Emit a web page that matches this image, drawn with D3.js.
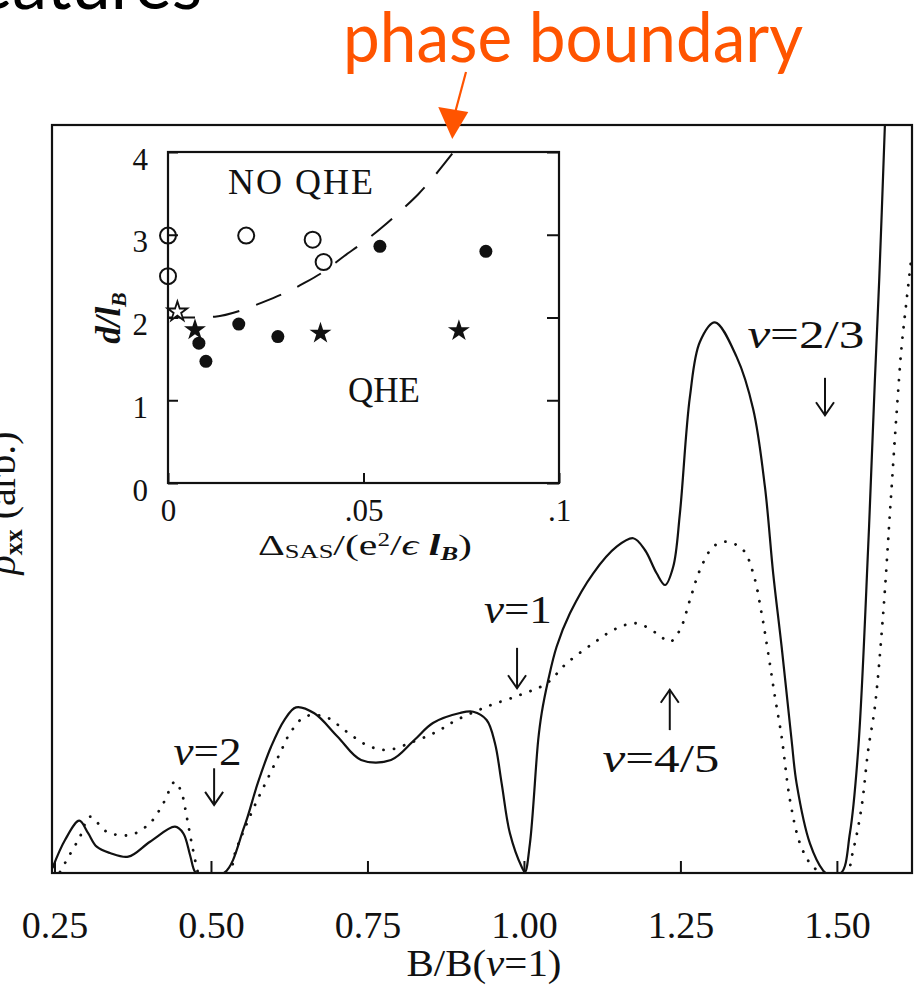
<!DOCTYPE html>
<html>
<head>
<meta charset="utf-8">
<script src="https://cdn.jsdelivr.net/npm/d3@7"></script>
<style>
	body { margin: 0; background: #fff; }
	svg { display: block; }
</style>
</head>
<body>
<div id="chart"></div>
<script>
// ---- main panel: rho_xx (arb.) against B/B(nu=1) ----
var solidB = [0.2468,0.2668,0.2896,0.3035,0.3174,0.3387,0.3679,0.4026,0.4425,0.4558,0.4665,0.4744,0.4792,0.5208,
	0.5532,0.5746,0.5960,0.6172,0.6359,0.6651,0.7024,0.7398,0.7877,0.8249,0.8546,0.8978,0.9190,0.9404,0.9537,0.9644,
	0.9776,0.9963,1.0016,1.0096,1.0228,1.0283,1.0388,1.0522,1.0735,1.1107,1.1481,1.1746,1.1933,1.2120,1.2255,1.2385,
	1.2492,1.2652,1.2812,1.3051,1.3398,1.3663,1.3850,1.3982,1.4117,1.4276,1.4356,1.4569,1.4781,1.4824,1.5064,1.5208,
	1.5340,1.5500,1.5607,1.5676,1.5767];
var solidRho = [0.0067,0.0441,0.0699,0.0535,0.0352,0.0267,0.0218,0.0418,0.0619,0.0531,0.0241,0.0017,0,0,
	0.0619,0.1199,0.1688,0.2045,0.2215,0.2135,0.1822,0.1511,0.1511,0.1778,0.2005,0.2139,0.2156,0.2045,0.1734,0.1199,
	0.0531,0.0084,0.0013,0.0397,0.1778,0.2135,0.2580,0.3025,0.3472,0.4007,0.4362,0.4475,0.4318,0.4007,0.3850,0.4095,
	0.4809,0.6368,0.7103,0.7362,0.6900,0.6200,0.5164,0.4007,0.3025,0.1778,0.1199,0.0397,0.0031,0,0,0.0531,
	0.1644,0.4362,0.6591,0.7928,1.0];

var dottedB = [0.2588,0.2695,0.2907,0.3067,0.3334,0.3706,0.4026,0.4238,0.4425,0.4532,0.4612,0.4692,0.4772,0.4808,
	0.5272,0.5399,0.5543,0.5703,0.5895,0.6102,0.6262,0.6502,0.6821,0.7168,0.7487,0.7807,0.8232,0.8605,0.8925,0.9404,
	0.9936,1.0363,1.0682,1.1107,1.1481,1.1800,1.2120,1.2332,1.2492,1.2652,1.2812,1.3024,1.3238,1.3503,1.3663,1.3797,
	1.3903,1.4010,1.4117,1.4250,1.4409,1.4569,1.4676,1.4729,1.5144,1.5261,1.5395,1.5500,1.5607,1.5740,1.5847,1.5954,
	1.6034,1.6114,1.6182];
var dottedRho = [0.0013,0.0174,0.0485,0.0753,0.0552,0.0508,0.0668,0.0932,0.1221,0.1066,0.0753,0.0397,0.0084,0,
	0,0.0307,0.0602,0.0909,0.1243,0.1600,0.1868,0.2090,0.2090,0.1889,0.1711,0.1644,0.1755,0.1889,0.2045,0.2223,
	0.2380,0.2536,0.2803,0.3071,0.3271,0.3338,0.3205,0.3092,0.3249,0.3650,0.4051,0.4362,0.4429,0.4318,0.4007,0.3472,
	0.2937,0.2357,0.1822,0.0976,0.0397,0.0130,0.0040,0,0,0.0307,0.0886,0.1644,0.2223,0.3472,0.4809,0.6146,
	0.7036,0.7660,0.8168];

var mainTicks = [0.25, 0.50, 0.75, 1.00, 1.25, 1.50];
var mainTickLabels = ["0.25", "0.50", "0.75", "1.00", "1.25", "1.50"];

// filling-factor markers (label, arrow position, arrow from/to, label anchor)
var nuNames = ["2", "1", "4/5", "2/3"];
var nuArrowB = [0.505, 0.989, 1.233, 1.481];
var nuArrowFrom = [0.140, 0.301, 0.191, 0.662];
var nuArrowTo = [0.091, 0.247, 0.245, 0.612];
var nuLabelB = [0.4945, 0.9904, 1.2189, 1.4505];
var nuLabelRho = [0.144, 0.334, 0.135, 0.702];

// ---- inset: d/l_B against Delta_SAS/(e^2/eps l_B) ----
var openCircleX = [0, 0, 0.020, 0.037, 0.0398];
var openCircleY = [2.99, 2.50, 2.99, 2.94, 2.67];
var filledCircleX = [0.0542, 0.0813, 0.0181, 0.0281, 0.0079, 0.0097];
var filledCircleY = [2.86, 2.80, 1.92, 1.77, 1.69, 1.47];
var filledStarX = [0.0069, 0.039, 0.0744];
var filledStarY = [1.85, 1.81, 1.84];
var openStarX = [0.0024];
var openStarY = [2.07];
var boundaryX = [0, 0.007, 0.012, 0.019, 0.024, 0.030, 0.035, 0.040, 0.045, 0.050, 0.055, 0.060, 0.064, 0.0727];
var boundaryY = [2.0, 2.0, 2.01, 2.09, 2.18, 2.30, 2.42, 2.56, 2.74, 2.91, 3.10, 3.31, 3.49, 3.98];
var insetXTicks = [0, 0.05, 0.1];
var insetXTickLabels = ["0", ".05", ".1"];
var insetYTicks = [0, 1, 2, 3, 4];

var W = 921, H = 990;
var serif = "'Liberation Serif', 'Times New Roman', serif";
var orange = "#ff5400";

var svg = d3.select("#chart").append("svg")
	.attr("width", W)
	.attr("height", H);

// cut-off slide title and the annotation
svg.append("text")
	.attr("x", 202).attr("y", 9)
	.attr("text-anchor", "end")
	.style("font-family", "'Comic Sans MS', Lato, sans-serif")
	.style("font-size", "70px")
	.attr("fill", "#000")
	.text("Features");

svg.append("text")
	.attr("x", 343).attr("y", 62)
	.attr("textLength", 460)
	.attr("lengthAdjust", "spacingAndGlyphs")
	.style("font-family", "'Comic Sans MS', Lato, sans-serif")
	.style("font-size", "70px")
	.attr("fill", orange)
	.text("phase boundary");

// ---- main panel ----
var x = d3.scaleLinear().domain([0.246, 1.620]).range([52, 912]);
var y = d3.scaleLinear().domain([0, 1]).range([873, 125]);

svg.append("clipPath").attr("id", "mainClip")
	.append("rect")
	.attr("x", x.range()[0]).attr("y", y.range()[1])
	.attr("width", x.range()[1] - x.range()[0])
	.attr("height", y.range()[0] - y.range()[1]);

var line = d3.line()
	.x(function(d) { return x(d[0]); })
	.y(function(d) { return y(d[1]); })
	.curve(d3.curveCatmullRom.alpha(0.5));

var curves = svg.append("g").attr("clip-path", "url(#mainClip)");

curves.append("path")
	.datum(d3.zip(dottedB, dottedRho))
	.attr("d", line)
	.attr("fill", "none")
	.attr("stroke", "#111")
	.attr("stroke-width", 2.8)
	.attr("stroke-linecap", "round")
	.attr("stroke-dasharray", "0.1 10.5");

curves.append("path")
	.datum(d3.zip(solidB, solidRho))
	.attr("d", line)
	.attr("fill", "none")
	.attr("stroke", "#111")
	.attr("stroke-width", 2.2);

var xAxis = d3.axisBottom(x)
	.tickValues(mainTicks)
	.tickSize(-12)
	.tickPadding(38)
	.tickFormat(function(d, i) { return mainTickLabels[i]; });

var gx = svg.append("g")
	.attr("transform", "translate(0," + y(0) + ")")
	.call(xAxis);
gx.select(".domain").remove();
gx.selectAll(".tick line").attr("stroke", "#111").attr("stroke-width", 2);
gx.selectAll(".tick text")
	.attr("fill", "#111")
	.style("font-family", serif)
	.style("font-size", "38px");

svg.append("rect")
	.attr("x", x.range()[0]).attr("y", y.range()[1])
	.attr("width", x.range()[1] - x.range()[0])
	.attr("height", y.range()[0] - y.range()[1])
	.attr("fill", "none")
	.attr("stroke", "#111")
	.attr("stroke-width", 2.2);

// axis titles
var xt = svg.append("text")
	.attr("x", 484).attr("y", 976)
	.attr("text-anchor", "middle")
	.attr("textLength", 155)
	.attr("lengthAdjust", "spacingAndGlyphs")
	.attr("fill", "#111")
	.style("font-family", serif)
	.style("font-size", "38px");
xt.append("tspan").text("B/B(");
xt.append("tspan").style("font-style", "italic").text("ν");
xt.append("tspan").text("=1)");

var yt = svg.append("text")
	.attr("transform", "translate(15,503) rotate(-90)")
	.attr("text-anchor", "middle")
	.attr("fill", "#111")
	.style("font-family", serif)
	.style("font-size", "40px");
yt.append("tspan").style("font-style", "italic").text("ρ");
yt.append("tspan").attr("dy", 7).style("font-size", "26px").style("font-weight", "bold").text("xx");
yt.append("tspan").attr("dy", -7).text(" (arb.)");

// nu annotations
nuNames.forEach(function(name, i) {
	var ax = x(nuArrowB[i]);
	var y1 = y(nuArrowFrom[i]);
	var y2 = y(nuArrowTo[i]);
	var dir = y2 > y1 ? -1 : 1; // head opens back towards the tail
	svg.append("line")
		.attr("x1", ax).attr("x2", ax)
		.attr("y1", y1).attr("y2", y2)
		.attr("stroke", "#111").attr("stroke-width", 2);
	svg.append("path")
		.attr("d", "M" + (ax - 9) + "," + (y2 + dir * 13) + "L" + ax + "," + y2 + "L" + (ax + 9) + "," + (y2 + dir * 13))
		.attr("fill", "none")
		.attr("stroke", "#111").attr("stroke-width", 2);

	var t = svg.append("text")
		.attr("x", x(nuLabelB[i])).attr("y", y(nuLabelRho[i]))
		.attr("text-anchor", "middle")
		.attr("textLength", name.length > 1 ? 117 : 68)
		.attr("lengthAdjust", "spacingAndGlyphs")
		.attr("fill", "#111")
		.style("font-family", serif)
		.style("font-size", "40px");
	t.append("tspan").style("font-style", "italic").text("ν");
	t.append("tspan").text("=" + name);
});

// ---- inset ----
var ix = d3.scaleLinear().domain([0, 0.1]).range([168, 559]);
var iy = d3.scaleLinear().domain([0, 4]).range([483, 152]);

var inset = svg.append("g");

var boundary = d3.line()
	.x(function(d) { return ix(d[0]); })
	.y(function(d) { return iy(d[1]); })
	.curve(d3.curveMonotoneX);

inset.append("path")
	.datum(d3.zip(boundaryX, boundaryY))
	.attr("d", boundary)
	.attr("fill", "none")
	.attr("stroke", "#111")
	.attr("stroke-width", 2)
	.attr("stroke-dasharray", "27 18");

var ixAxis = d3.axisBottom(ix)
	.tickValues(insetXTicks)
	.tickSize(-10)
	.tickPadding(16)
	.tickFormat(function(d, i) { return insetXTickLabels[i]; });
var gix = inset.append("g").attr("transform", "translate(0," + iy(0) + ")").call(ixAxis);

var iyAxis = d3.axisLeft(iy)
	.tickValues(insetYTicks)
	.tickSize(-10)
	.tickPadding(20)
	.tickFormat(d3.format("d"));
var giy = inset.append("g").attr("transform", "translate(" + ix(0) + ",0)").call(iyAxis);

var iyAxisR = d3.axisRight(iy)
	.tickValues(insetYTicks)
	.tickSize(-12)
	.tickFormat("");
var giyR = inset.append("g").attr("transform", "translate(" + ix(0.1) + ",0)").call(iyAxisR);

[gix, giy, giyR].forEach(function(g) {
	g.select(".domain").remove();
	g.selectAll(".tick line").attr("stroke", "#111").attr("stroke-width", 2);
	g.selectAll(".tick text")
		.attr("fill", "#111")
		.style("font-family", serif)
		.style("font-size", "31px");
});
giy.selectAll(".tick text").attr("dy", "0.55em");

inset.append("rect")
	.attr("x", ix(0)).attr("y", iy(4))
	.attr("width", ix(0.1) - ix(0))
	.attr("height", iy(0) - iy(4))
	.attr("fill", "none")
	.attr("stroke", "#111")
	.attr("stroke-width", 2.2);

// markers
inset.selectAll(".open-circle")
	.data(d3.zip(openCircleX, openCircleY))
	.enter().append("circle")
	.attr("cx", function(d) { return ix(d[0]); })
	.attr("cy", function(d) { return iy(d[1]); })
	.attr("r", 8)
	.attr("fill", "none")
	.attr("stroke", "#111")
	.attr("stroke-width", 2);

inset.selectAll(".filled-circle")
	.data(d3.zip(filledCircleX, filledCircleY))
	.enter().append("circle")
	.attr("cx", function(d) { return ix(d[0]); })
	.attr("cy", function(d) { return iy(d[1]); })
	.attr("r", 6.5)
	.attr("fill", "#111");

var star = d3.symbol().type(d3.symbolStar);

inset.selectAll(".filled-star")
	.data(d3.zip(filledStarX, filledStarY))
	.enter().append("path")
	.attr("transform", function(d) { return "translate(" + ix(d[0]) + "," + iy(d[1]) + ")"; })
	.attr("d", star.size(150)())
	.attr("fill", "#111");

inset.selectAll(".open-star")
	.data(d3.zip(openStarX, openStarY))
	.enter().append("path")
	.attr("transform", function(d) { return "translate(" + ix(d[0]) + "," + iy(d[1]) + ")"; })
	.attr("d", star.size(120)())
	.attr("fill", "#fff")
	.attr("stroke", "#111")
	.attr("stroke-width", 1.8);

// region labels
inset.append("text")
	.attr("x", 228).attr("y", 194)
	.attr("textLength", 145)
	.attr("lengthAdjust", "spacing")
	.attr("fill", "#111")
	.style("font-family", serif)
	.style("font-size", "36px")
	.text("NO QHE");

inset.append("text")
	.attr("x", 348).attr("y", 402)
	.attr("textLength", 72)
	.attr("lengthAdjust", "spacing")
	.attr("fill", "#111")
	.style("font-family", serif)
	.style("font-size", "35px")
	.text("QHE");

// inset axis titles
var ixt = inset.append("text")
	.attr("x", 365).attr("y", 555)
	.attr("text-anchor", "middle")
	.attr("textLength", 214)
	.attr("lengthAdjust", "spacingAndGlyphs")
	.attr("fill", "#111")
	.style("font-family", serif)
	.style("font-size", "30px");
ixt.append("tspan").text("Δ");
ixt.append("tspan").attr("dy", 3).style("font-size", "19px").text("SAS");
ixt.append("tspan").attr("dy", -3).text("/(e");
ixt.append("tspan").attr("dy", -9).style("font-size", "18px").text("2");
ixt.append("tspan").attr("dy", 9).text("/");
ixt.append("tspan").style("font-style", "italic").text("ϵ ");
ixt.append("tspan").style("font-style", "italic").style("font-weight", "bold").text("l");
ixt.append("tspan").attr("dy", 5).style("font-size", "19px").style("font-style", "italic").style("font-weight", "bold").text("B");
ixt.append("tspan").attr("dy", -5).text(")");

var iyt = inset.append("text")
	.attr("transform", "translate(120,318) rotate(-90)")
	.attr("text-anchor", "middle")
	.attr("fill", "#111")
	.style("font-family", serif)
	.style("font-size", "35px")
	.style("font-style", "italic")
	.style("font-weight", "bold");
iyt.append("tspan").text("d/l");
iyt.append("tspan").attr("dy", 6).style("font-size", "22px").text("B");

// orange pointer onto the phase boundary
var tipX = ix(boundaryX[boundaryX.length - 1]);
svg.append("line")
	.attr("x1", 466).attr("y1", 72)
	.attr("x2", tipX + 3).attr("y2", 112)
	.attr("stroke", orange).attr("stroke-width", 2.2);
svg.append("path")
	.attr("d", "M" + (tipX - 14) + ",107L" + (tipX + 16) + ",112L" + tipX + ",139Z")
	.attr("fill", orange);
</script>
</body>
</html>
